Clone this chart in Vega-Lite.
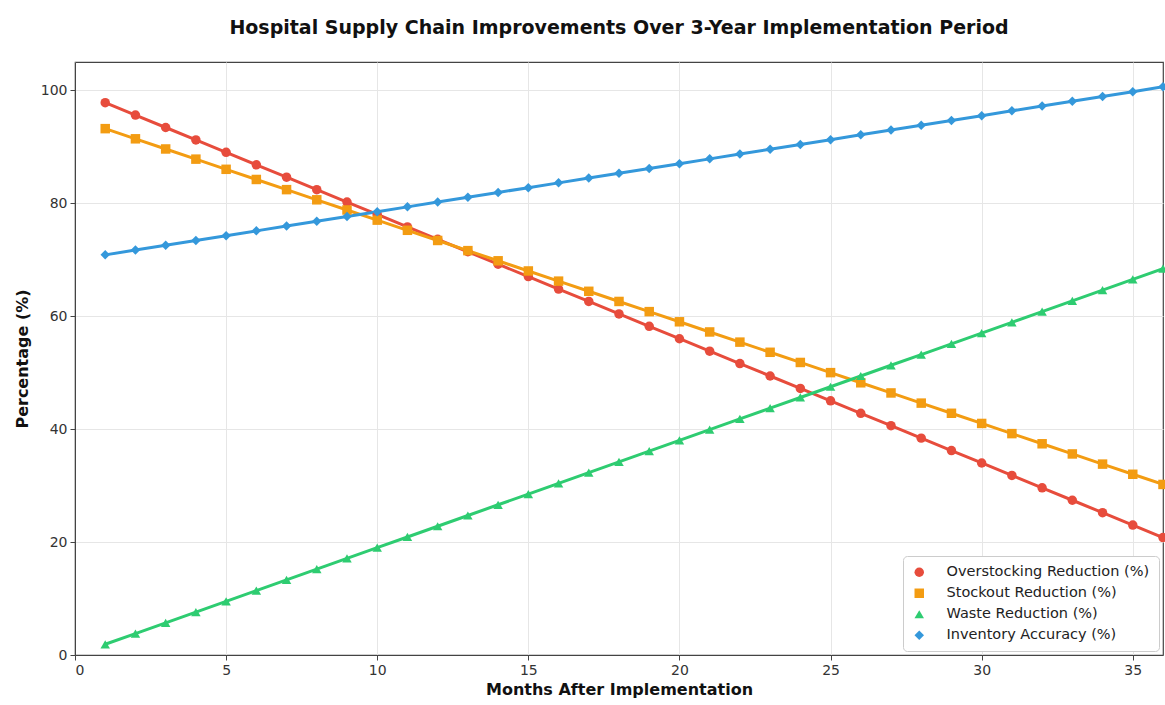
{
  "$schema": "https://vega.github.io/schema/vega-lite/v6.json",
  "width": 1088,
  "height": 593,
  "autosize": {"type": "none"},
  "padding": {"left": 75, "top": 62, "right": 2, "bottom": 50},
  "background": "white",
  "title": {
    "text": "Hospital Supply Chain Improvements Over 3-Year Implementation Period",
    "font": "DejaVu Sans",
    "fontSize": 19,
    "fontWeight": "bold",
    "color": "#111",
    "anchor": "middle",
    "offset": 24
  },
  "config": {
    "font": "DejaVu Sans",
    "view": {"stroke": "#444", "strokeWidth": 1.2},
    "axis": {
      "labelFont": "DejaVu Sans",
      "labelFontSize": 14,
      "labelColor": "#333",
      "titleFont": "DejaVu Sans",
      "titleFontSize": 16,
      "titleFontWeight": "bold",
      "titleColor": "#111",
      "gridColor": "#e6e6e6",
      "gridWidth": 1,
      "domainColor": "#444",
      "tickColor": "#444",
      "tickSize": 5
    }
  },
  "data": {
    "values": [
      {"month": 1, "o": 97.8, "s": 93.2, "w": 1.9, "i": 70.85},
      {"month": 2, "o": 95.6, "s": 91.4, "w": 3.8, "i": 71.7},
      {"month": 3, "o": 93.4, "s": 89.6, "w": 5.7, "i": 72.55},
      {"month": 4, "o": 91.2, "s": 87.8, "w": 7.6, "i": 73.4},
      {"month": 5, "o": 89.0, "s": 86.0, "w": 9.5, "i": 74.25},
      {"month": 6, "o": 86.8, "s": 84.2, "w": 11.4, "i": 75.1},
      {"month": 7, "o": 84.6, "s": 82.4, "w": 13.3, "i": 75.95},
      {"month": 8, "o": 82.4, "s": 80.6, "w": 15.2, "i": 76.8},
      {"month": 9, "o": 80.2, "s": 78.8, "w": 17.1, "i": 77.65},
      {"month": 10, "o": 78.0, "s": 77.0, "w": 19.0, "i": 78.5},
      {"month": 11, "o": 75.8, "s": 75.2, "w": 20.9, "i": 79.35},
      {"month": 12, "o": 73.6, "s": 73.4, "w": 22.8, "i": 80.2},
      {"month": 13, "o": 71.4, "s": 71.6, "w": 24.7, "i": 81.05},
      {"month": 14, "o": 69.2, "s": 69.8, "w": 26.6, "i": 81.9},
      {"month": 15, "o": 67.0, "s": 68.0, "w": 28.5, "i": 82.75},
      {"month": 16, "o": 64.8, "s": 66.2, "w": 30.4, "i": 83.6},
      {"month": 17, "o": 62.6, "s": 64.4, "w": 32.3, "i": 84.45},
      {"month": 18, "o": 60.4, "s": 62.6, "w": 34.2, "i": 85.3},
      {"month": 19, "o": 58.2, "s": 60.8, "w": 36.1, "i": 86.15},
      {"month": 20, "o": 56.0, "s": 59.0, "w": 38.0, "i": 87.0},
      {"month": 21, "o": 53.8, "s": 57.2, "w": 39.9, "i": 87.85},
      {"month": 22, "o": 51.6, "s": 55.4, "w": 41.8, "i": 88.7},
      {"month": 23, "o": 49.4, "s": 53.6, "w": 43.7, "i": 89.55},
      {"month": 24, "o": 47.2, "s": 51.8, "w": 45.6, "i": 90.4},
      {"month": 25, "o": 45.0, "s": 50.0, "w": 47.5, "i": 91.25},
      {"month": 26, "o": 42.8, "s": 48.2, "w": 49.4, "i": 92.1},
      {"month": 27, "o": 40.6, "s": 46.4, "w": 51.3, "i": 92.95},
      {"month": 28, "o": 38.4, "s": 44.6, "w": 53.2, "i": 93.8},
      {"month": 29, "o": 36.2, "s": 42.8, "w": 55.1, "i": 94.65},
      {"month": 30, "o": 34.0, "s": 41.0, "w": 57.0, "i": 95.5},
      {"month": 31, "o": 31.8, "s": 39.2, "w": 58.9, "i": 96.35},
      {"month": 32, "o": 29.6, "s": 37.4, "w": 60.8, "i": 97.2},
      {"month": 33, "o": 27.4, "s": 35.6, "w": 62.7, "i": 98.05},
      {"month": 34, "o": 25.2, "s": 33.8, "w": 64.6, "i": 98.9},
      {"month": 35, "o": 23.0, "s": 32.0, "w": 66.5, "i": 99.75},
      {"month": 36, "o": 20.8, "s": 30.2, "w": 68.4, "i": 100.6}
    ]
  },
  "transform": [
    {"fold": ["o", "s", "w", "i"], "as": ["key", "value"]},
    {"lookup": "key", "from": {"data": {"values": [
      {"key": "o", "series": "Overstocking Reduction (%)"},
      {"key": "s", "series": "Stockout Reduction (%)"},
      {"key": "w", "series": "Waste Reduction (%)"},
      {"key": "i", "series": "Inventory Accuracy (%)"}
    ]}, "key": "key", "fields": ["series"]}}
  ],
  "encoding": {
    "x": {
      "field": "month",
      "type": "quantitative",
      "scale": {"domain": [0, 36], "nice": false, "zero": false},
      "axis": {"values": [0, 5, 10, 15, 20, 25, 30, 35], "title": "Months After Implementation", "titlePadding": 4, "labelPadding": 3}
    },
    "y": {
      "field": "value",
      "type": "quantitative",
      "scale": {"domain": [0, 105], "nice": false},
      "axis": {"values": [0, 20, 40, 60, 80, 100], "title": "Percentage (%)", "titlePadding": 10, "labelPadding": 3}
    },
    "color": {
      "field": "series",
      "type": "nominal",
      "scale": {
        "domain": ["Overstocking Reduction (%)", "Stockout Reduction (%)", "Waste Reduction (%)", "Inventory Accuracy (%)"],
        "range": ["#e74c3c", "#f39c12", "#2ecc71", "#3498db"]
      },
      "legend": {
        "title": null,
        "orient": "bottom-right",
        "offset": 4,
        "labelFont": "DejaVu Sans",
        "labelFontSize": 14.5,
        "labelLimit": 0,
        "labelColor": "#222",
        "symbolSize": 90,
        "symbolStrokeWidth": 0,
        "rowPadding": 6,
        "padding": 9,
        "strokeColor": "#cccccc",
        "fillColor": "white",
        "cornerRadius": 4,
        "labelOffset": 20
      }
    },
    "shape": {
      "field": "series",
      "type": "nominal",
      "scale": {
        "domain": ["Overstocking Reduction (%)", "Stockout Reduction (%)", "Waste Reduction (%)", "Inventory Accuracy (%)"],
        "range": ["circle", "square", "triangle-up", "diamond"]
      }
    }
  },
  "layer": [
    {"mark": {"type": "line", "strokeWidth": 3, "clip": true}},
    {"mark": {"type": "point", "filled": true, "size": 90, "opacity": 1}}
  ]
}
